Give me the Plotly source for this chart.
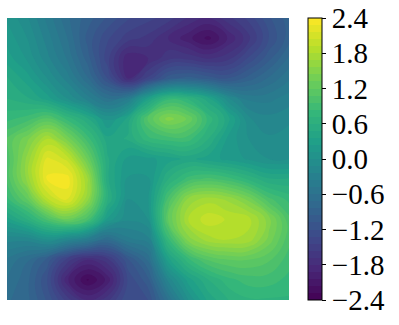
import plotly.graph_objects as go

# field values, top row first (15 x 15 grid)
row00 = [0.1, -0.1, -0.4, -0.7, -0.9, -1.1, -1.3, -1.4, -1.5, -1.7, -1.8, -1.6, -1.4, -1.1, -0.9]
row01 = [0.2, 0.0, -0.3, -0.6, -1.0, -1.3, -1.5, -1.6, -1.8, -2.0, -2.2, -1.9, -1.6, -1.2, -0.9]
row02 = [0.3, 0.1, -0.2, -0.5, -0.9, -1.4, -1.9, -1.8, -1.6, -1.6, -1.7, -1.6, -1.3, -1.0, -0.7]
row03 = [0.5, 0.3, 0.0, -0.3, -0.7, -1.2, -1.8, -1.4, -1.0, -0.9, -1.0, -1.1, -0.9, -0.7, -0.5]
row04 = [0.6, 0.5, 0.3, 0.0, -0.3, -0.6, -0.4, 0.3, 0.8, 0.7, 0.4, -0.1, -0.4, -0.4, -0.3]
row05 = [0.8, 0.9, 1.1, 0.8, 0.5, 0.1, 0.4, 1.1, 1.5, 1.3, 0.8, 0.4, -0.1, -0.2, -0.15]
row06 = [1.1, 1.4, 1.8, 1.4, 0.9, 0.4, 0.5, 0.8, 0.9, 0.9, 0.6, 0.2, 0.0, -0.1, -0.05]
row07 = [1.0, 1.6, 2.2, 2.0, 1.3, 0.5, 0.2, 0.2, 0.3, 0.4, 0.3, 0.2, 0.1, 0.0, 0.0]
row08 = [1.0, 1.6, 2.3, 2.35, 1.7, 0.5, 0.1, 0.1, 0.6, 0.9, 1.0, 0.9, 0.7, 0.5, 0.5]
row09 = [0.8, 1.2, 1.9, 2.2, 1.6, 0.6, 0.0, 0.1, 1.0, 1.6, 1.75, 1.65, 1.4, 1.0, 0.8]
row10 = [0.3, 0.6, 1.0, 1.3, 1.0, 0.2, -0.1, 0.0, 1.2, 1.8, 2.0, 1.9, 1.85, 1.5, 1.0]
row11 = [-0.2, -0.2, 0.0, -0.2, -0.4, -0.7, -0.4, -0.3, 0.8, 1.5, 1.75, 1.8, 1.75, 1.4, 1.0]
row12 = [-0.5, -0.7, -1.0, -1.5, -1.8, -1.6, -1.1, -0.7, 0.3, 0.8, 1.1, 1.2, 1.2, 1.1, 0.9]
row13 = [-0.6, -0.8, -1.2, -1.9, -2.3, -2.0, -1.3, -1.0, -0.2, 0.3, 0.6, 0.8, 0.9, 0.9, 0.8]
row14 = [-0.7, -0.8, -1.1, -1.5, -1.8, -1.6, -1.2, -1.2, -0.6, 0.0, 0.4, 0.6, 0.7, 0.7, 0.7]

tick_vals = [-2.4, -1.8, -1.2, -0.6, 0.0, 0.6, 1.2, 1.8, 2.4]
tick_text = ["\u22122.4", "\u22121.8", "\u22121.2", "\u22120.6", "0.0", "0.6", "1.2", "1.8", "2.4"]

rows = [row00, row01, row02, row03, row04, row05, row06, row07,
        row08, row09, row10, row11, row12, row13, row14]
z = rows[::-1]  # bottom row first for plotly
n = len(row00)

fig = go.Figure(go.Contour(
    z=z,
    x=list(range(n)),
    y=list(range(len(rows))),
    colorscale="Viridis",
    zmin=-2.4, zmax=2.4,
    autocontour=False,
    contours=dict(start=-2.4, end=2.4, size=0.12, coloring="fill"),
    line=dict(width=0, smoothing=1.3),
    colorbar=dict(
        x=1.067, xanchor="left", xpad=0,
        y=0.5, yanchor="middle", ypad=0,
        len=1, thickness=14,
        outlinewidth=1, outlinecolor="black",
        tickvals=tick_vals, ticktext=tick_text,
        ticks="outside", ticklen=4, tickcolor="black",
        tickfont=dict(family="Liberation Serif", size=29, color="black"),
    ),
))

fig.update_xaxes(visible=False)
fig.update_yaxes(visible=False)
fig.update_layout(
    width=399, height=325,
    margin=dict(l=7, r=110, t=18, b=25),
    paper_bgcolor="white", plot_bgcolor="white",
)

# drop the default page margin so the figure sits at the window origin
fig.write_html("out.html", config={"displayModeBar": False},
               post_script="document.body.style.margin='0';")
